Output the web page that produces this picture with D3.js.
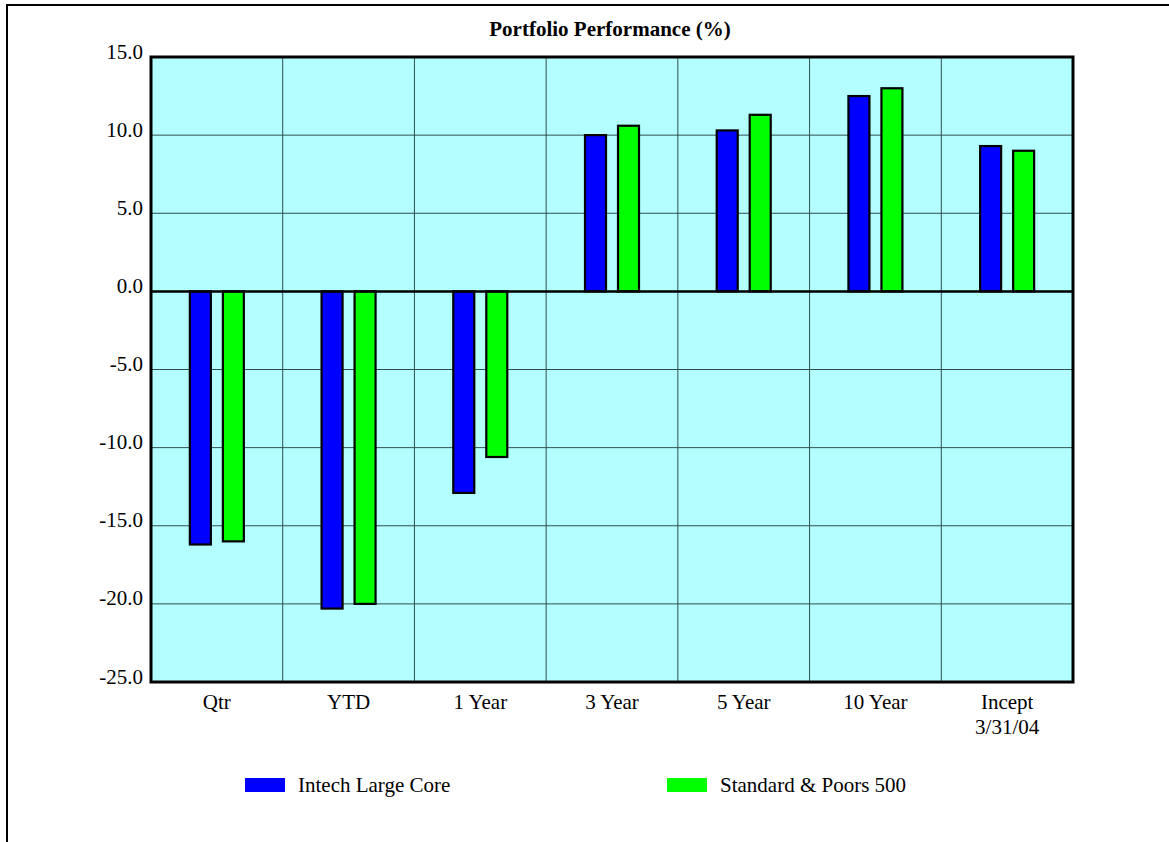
<!DOCTYPE html>
<html>
<head>
<meta charset="utf-8">
<script src="https://cdn.jsdelivr.net/npm/d3@7"></script>
<style>
  html, body { margin: 0; padding: 0; background: #fff; }
  svg { display: block; }
  text { font-family: "Liberation Serif", "Times New Roman", serif; fill: #000; }
</style>
</head>
<body>
<svg id="chart" width="1169" height="842"></svg>
<script>
const categories = ["Qtr", "YTD", "1 Year", "3 Year", "5 Year", "10 Year", "Incept\n3/31/04"];
const seriesNames = ["Intech Large Core", "Standard & Poors 500"];
const intechValues = [-16.2, -20.3, -12.9, 10.0, 10.3, 12.5, 9.3];
const spValues = [-16.0, -20.0, -10.6, 10.6, 11.3, 13.0, 9.0];
const yTicks = [-25, -20, -15, -10, -5, 0, 5, 10, 15];
const title = "Portfolio Performance (%)";
const colors = ["#0000ff", "#00ff00"];

const svg = d3.select("#chart");
const W = 1169, H = 842;
const plot = { left: 151, right: 1073, top: 57, bottom: 682 };

// outer frame (top and left visible)
svg.append("rect")
  .attr("x", 7).attr("y", 5)
  .attr("width", W + 20).attr("height", H + 20)
  .attr("fill", "#fff").attr("stroke", "#000").attr("stroke-width", 2);

const x0 = d3.scaleBand().domain(categories).range([plot.left, plot.right]).padding(0);
const bw = x0.bandwidth();
const x1 = d3.scaleBand().domain(seriesNames)
  .range([bw / 2 - 27, bw / 2 + 27]).paddingInner(0.364).paddingOuter(0);
const y = d3.scaleLinear().domain([-25, 15]).range([plot.bottom, plot.top]);

// plot background
svg.append("rect")
  .attr("x", plot.left).attr("y", plot.top)
  .attr("width", plot.right - plot.left).attr("height", plot.bottom - plot.top)
  .attr("fill", "#b3ffff");

// horizontal gridlines
svg.append("g").selectAll("line").data(yTicks).join("line")
  .attr("x1", plot.left).attr("x2", plot.right)
  .attr("y1", d => y(d)).attr("y2", d => y(d))
  .attr("stroke", "#2f4f4f").attr("stroke-width", 1);

// vertical gridlines at category boundaries
svg.append("g").selectAll("line").data(categories.slice(1)).join("line")
  .attr("x1", d => x0(d)).attr("x2", d => x0(d))
  .attr("y1", plot.top).attr("y2", plot.bottom)
  .attr("stroke", "#2f4f4f").attr("stroke-width", 1);

// bars
const rows = categories.map((c, i) => ({ cat: c, vals: [intechValues[i], spValues[i]] }));
const groups = svg.append("g").selectAll("g").data(rows).join("g")
  .attr("transform", d => `translate(${x0(d.cat)},0)`);
groups.selectAll("rect").data(d => d.vals.map((v, j) => ({ name: seriesNames[j], v, j }))).join("rect")
  .attr("x", d => x1(d.name))
  .attr("width", x1.bandwidth())
  .attr("y", d => Math.min(y(d.v), y(0)))
  .attr("height", d => Math.abs(y(d.v) - y(0)))
  .attr("fill", d => colors[d.j])
  .attr("stroke", "#000").attr("stroke-width", 2.2);

// zero line
svg.append("line")
  .attr("x1", plot.left).attr("x2", plot.right)
  .attr("y1", y(0)).attr("y2", y(0))
  .attr("stroke", "#000").attr("stroke-width", 2.5);

// plot border
svg.append("rect")
  .attr("x", plot.left).attr("y", plot.top)
  .attr("width", plot.right - plot.left).attr("height", plot.bottom - plot.top)
  .attr("fill", "none").attr("stroke", "#000").attr("stroke-width", 3);

// y axis labels
const fmt = d => d.toFixed(1);
const yAxis = d3.axisLeft(y).tickValues(yTicks).tickFormat(fmt).tickSize(0).tickPadding(8);
const ya = svg.append("g").attr("transform", `translate(${plot.left},0)`).call(yAxis);
ya.select(".domain").remove();
ya.selectAll("text")
  .attr("font-family", "Liberation Serif, Times New Roman, serif")
  .attr("font-size", 21).attr("fill", "#000")
  .attr("dy", "0").attr("y", 1).attr("x", -8);

// x axis labels
const xAxis = d3.axisBottom(x0).tickSize(0).tickFormat("");
const xa = svg.append("g").attr("transform", `translate(0,${plot.bottom})`).call(xAxis);
xa.select(".domain").remove();
xa.selectAll(".tick").each(function(d) {
  const t = d3.select(this).append("text")
    .attr("text-anchor", "middle")
    .attr("font-family", "Liberation Serif, Times New Roman, serif")
    .attr("font-size", 21).attr("fill", "#000");
  d.split("\n").forEach((line, i) => {
    t.append("tspan").attr("x", 0).attr("y", 27 + i * 25).text(line);
  });
});

// title
svg.append("text")
  .attr("x", (plot.left + plot.right) / 2 - 2).attr("y", 36)
  .attr("text-anchor", "middle")
  .attr("font-size", 21).attr("font-weight", "bold")
  .text(title);

// legend
const legendX = [245, 667];
const leg = svg.append("g").selectAll("g").data(seriesNames).join("g")
  .attr("transform", (d, i) => `translate(${legendX[i]},778)`);
leg.append("rect").attr("width", 40).attr("height", 14).attr("fill", (d, i) => colors[i]);
leg.append("text").attr("x", 53).attr("y", 14).attr("font-size", 21).text(d => d);
</script>
</body>
</html>
